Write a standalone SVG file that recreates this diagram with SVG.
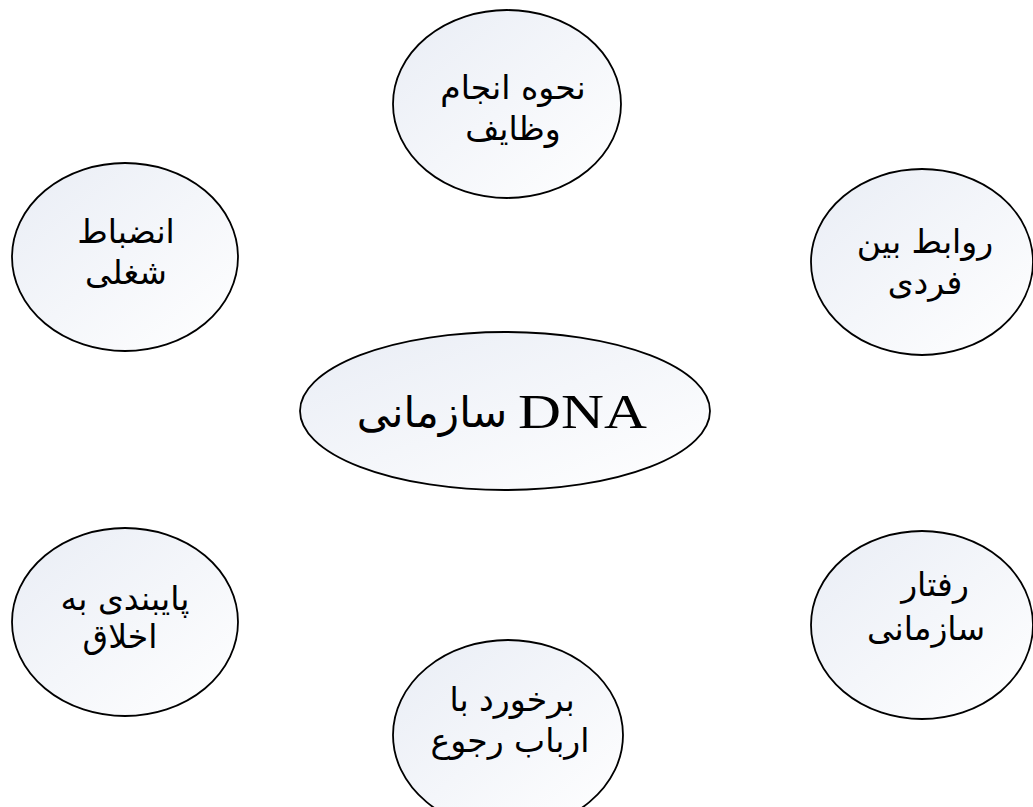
<svg xmlns="http://www.w3.org/2000/svg" width="1033" height="807" viewBox="0 0 1033 807">
<style>
.n{fill:url(#g);stroke:#000;stroke-width:1.8}
.t{font-family:"DejaVu Sans","Noto Sans",sans-serif;font-size:33px;fill:#000;text-anchor:middle}
.c{font-family:"DejaVu Sans","Noto Sans",sans-serif;font-size:42px;fill:#000;text-anchor:middle}
.e{font-family:"Liberation Serif",serif;font-size:48px;fill:#000}
</style>
<defs>
<linearGradient id="g" x1="0" y1="0" x2="1" y2="1">
<stop offset="0" stop-color="#e9edf5"/>
<stop offset="1" stop-color="#ffffff"/>
</linearGradient>
</defs>
<rect width="1033" height="807" fill="#fff"/>
<g id="connectors"></g>
<g id="node-top">
<ellipse class="n" cx="507" cy="104" rx="114" ry="94"/>
<text class="t" x="513" y="99">نحوه انجام</text>
<text class="t" x="513" y="140">وظایف</text>
</g>
<g id="node-ul">
<ellipse class="n" cx="125" cy="257" rx="113" ry="94"/>
<text class="t" x="126" y="243">انضباط</text>
<text class="t" x="126" y="284">شغلی</text>
</g>
<g id="node-ur">
<ellipse class="n" cx="922" cy="262" rx="111" ry="93"/>
<text class="t" x="925" y="253">روابط بین</text>
<text class="t" x="925" y="294">فردی</text>
</g>
<g id="node-center">
<ellipse class="n" cx="505" cy="411" rx="205" ry="79"/>
<text class="c" x="432" y="427">سازمانی</text>
<text class="e" transform="translate(518,428) scale(1.24,1)" x="0" y="0">DNA</text>
</g>
<g id="node-ll">
<ellipse class="n" cx="125" cy="622" rx="113" ry="94"/>
<text class="t" x="125" y="610">پایبندی به</text>
<text class="t" x="120" y="648">اخلاق</text>
</g>
<g id="node-lr">
<ellipse class="n" cx="922" cy="625" rx="111" ry="94"/>
<text class="t" x="935" y="596">رفتار</text>
<text class="t" x="926" y="640">سازمانی</text>
</g>
<g id="node-bottom">
<ellipse class="n" cx="508" cy="735" rx="115" ry="95"/>
<text class="t" x="512" y="711">برخورد با</text>
<text class="t" x="510" y="752">ارباب رجوع</text>
</g>
</svg>
